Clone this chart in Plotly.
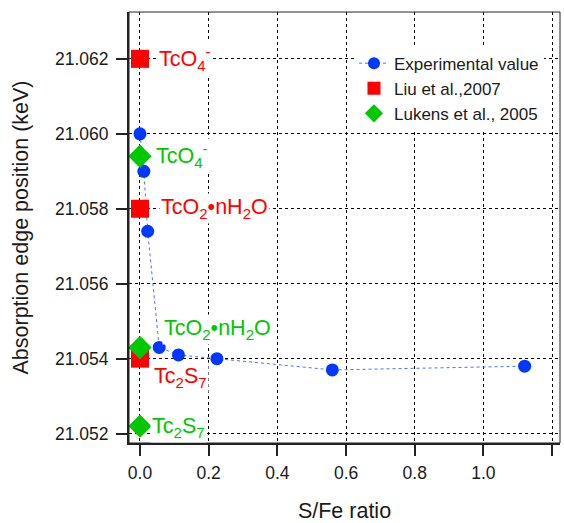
import plotly.graph_objects as go

# ---- data ----
exp_x = [0.0, 0.0112, 0.0224, 0.056, 0.112, 0.224, 0.56, 1.12]
exp_y = [21.0600, 21.0590, 21.0574, 21.0543, 21.0541, 21.0540, 21.0537, 21.0538]

liu_x = [0.0, 0.0, 0.0]
liu_y = [21.0620, 21.0580, 21.0540]
liu_labels = ["TcO<sub>4</sub><sup>-</sup>", "TcO<sub>2</sub>•nH<sub>2</sub>O", "Tc<sub>2</sub>S<sub>7</sub>"]

luk_x = [0.0, 0.0, 0.0]
luk_y = [21.0594, 21.0543, 21.0522]
luk_labels = ["TcO<sub>4</sub><sup>-</sup>", "TcO<sub>2</sub>•nH<sub>2</sub>O", "Tc<sub>2</sub>S<sub>7</sub>"]

x_ticks = [0.0, 0.2, 0.4, 0.6, 0.8, 1.0, 1.2]
y_ticks = [21.052, 21.054, 21.056, 21.058, 21.060, 21.062]

BLUE = "#0038ff"
RED = "#ff0000"
GREEN = "#00c800"
LINE_BLUE = "#4a72ff"
FONT = "Liberation Sans, Arial, sans-serif"

fig = go.Figure()
fig.add_trace(go.Scatter(
    x=exp_x, y=exp_y, mode="lines+markers", name="Experimental value", showlegend=False,
    line=dict(color=LINE_BLUE, width=1, dash="dot"),
    marker=dict(color=BLUE, size=13, symbol="circle"),
))
fig.add_trace(go.Scatter(
    x=liu_x, y=liu_y, mode="markers", name="Liu et al.,2007", showlegend=False,
    marker=dict(color=RED, size=18, symbol="square"),
))
fig.add_trace(go.Scatter(
    x=luk_x, y=luk_y, mode="markers", name="Lukens et al., 2005", showlegend=False,
    marker=dict(color=GREEN, size=18, symbol="diamond"),
))

# legend-only entries (smaller symbols, as in the reference legend)
fig.add_trace(go.Scatter(
    x=[None], y=[None], mode="lines+markers", name="Experimental value",
    line=dict(color=LINE_BLUE, width=1, dash="dot"),
    marker=dict(color=BLUE, size=12, symbol="circle"),
))
fig.add_trace(go.Scatter(
    x=[None], y=[None], mode="markers", name="Liu et al.,2007",
    marker=dict(color=RED, size=13, symbol="square"),
))
fig.add_trace(go.Scatter(
    x=[None], y=[None], mode="markers", name="Lukens et al., 2005",
    marker=dict(color=GREEN, size=14, symbol="diamond"),
))

# label offsets (pixels) relative to each reference point
liu_shift = [(17, 0), (19, 0), (12, -19)]
luk_shift = [(14, 1), (22, 18), (10, -1)]

for xv, yv, txt, (dx, dy) in zip(liu_x, liu_y, liu_labels, liu_shift):
    fig.add_annotation(x=xv, y=yv, text=txt, showarrow=False, xanchor="left", yanchor="middle",
                       xshift=dx, yshift=dy, bgcolor="white", borderpad=1,
                       font=dict(family=FONT, size=21.5, color=RED))
for xv, yv, txt, (dx, dy) in zip(luk_x, luk_y, luk_labels, luk_shift):
    fig.add_annotation(x=xv, y=yv, text=txt, showarrow=False, xanchor="left", yanchor="middle",
                       xshift=dx, yshift=dy, bgcolor="white", borderpad=1,
                       font=dict(family=FONT, size=21.5, color=GREEN))

axis_common = dict(
    showgrid=True, gridcolor="black", gridwidth=1, griddash="dot",
    zeroline=False, showline=True, linecolor="#222", linewidth=2,
    ticks="outside", ticklen=11, tickwidth=1.5, tickcolor="#222",
    tickfont=dict(family=FONT, size=17.5, color="#1a1a1a"),
)

fig.update_xaxes(range=[-0.032, 1.223], tickvals=x_ticks, tickformat=".1f",
                 ticklabelstandoff=2,
                 title=dict(text="S/Fe ratio", font=dict(family=FONT, size=21.5, color="#1a1a1a"), standoff=22),
                 **axis_common)
fig.update_yaxes(range=[21.05175, 21.06325], tickvals=y_ticks, tickformat=".3f",
                 ticklabelstandoff=4,
                 title=dict(text="Absorption edge position (keV)", font=dict(family=FONT, size=21.5, color="#1a1a1a"), standoff=20),
                 **axis_common)

fig.add_shape(type="rect", xref="paper", yref="paper", x0=0, y0=0, x1=1, y1=1,
              line=dict(color="#222", width=1), layer="above")

fig.update_layout(
    width=564, height=523,
    margin=dict(l=129, r=4, t=12, b=80),
    paper_bgcolor="white", plot_bgcolor="white",
    font=dict(family=FONT, color="#1a1a1a"),
    showlegend=True,
    legend=dict(x=0.522, y=0.922, xanchor="left", yanchor="top",
                bgcolor="white", borderwidth=0,
                font=dict(family=FONT, size=17, color="#1a1a1a"),
                tracegroupgap=0, itemsizing="trace"),
)

fig.write_html("out.html")
